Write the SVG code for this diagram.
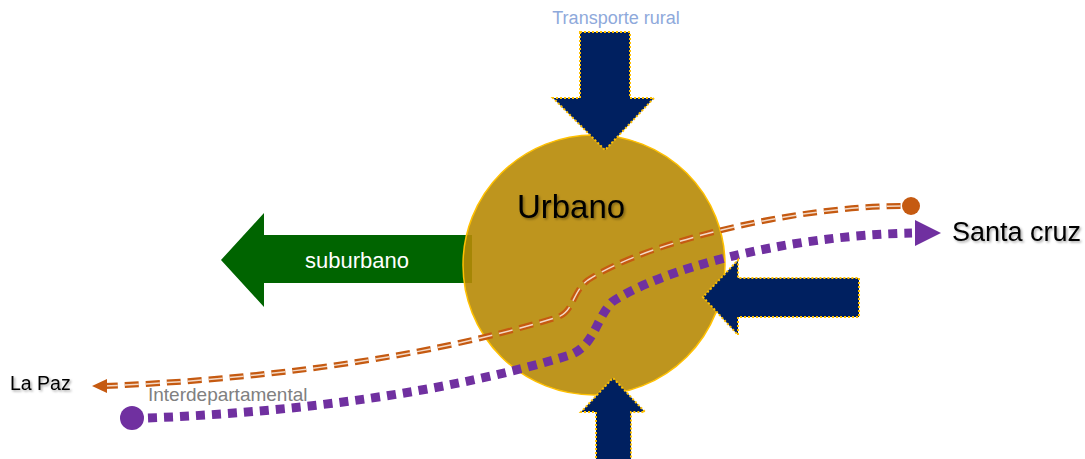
<svg xmlns="http://www.w3.org/2000/svg" width="1085" height="459" viewBox="0 0 1085 459">
<style>
.navy{fill:#002060;stroke:#FFC000;stroke-width:2;stroke-dasharray:2 2}
.lbl{font-family:"Liberation Sans",Arial,sans-serif}
.sh{filter:url(#shadow)}
</style>
<defs>
<filter id="shadow" x="-10%" y="-20%" width="130%" height="150%">
<feDropShadow dx="1.5" dy="1.5" stdDeviation="1" flood-color="#000" flood-opacity="0.35"/>
</filter>
</defs>
<rect width="1085" height="459" fill="#fff"/>
<g id="suburbano">
<path d="M472 235 V283 H264 V307 L221 260 L264 213 V235 Z" fill="#006400"/>
<text class="lbl" x="357" y="268" font-size="22" fill="#fff" text-anchor="middle">suburbano</text>
</g>
<g id="urbano">
<ellipse cx="594" cy="265" rx="131" ry="130" fill="#B78A05" fill-opacity="0.9" stroke="#FFC000" stroke-width="1.5"/>
<text class="lbl sh" x="571" y="218" font-size="33" fill="#000" text-anchor="middle">Urbano</text>
</g>
<g id="connectors">
<g id="lapaz-line">
<path d="M104 386 C250 380,420 360,558 317 C574 311,572 292,588 280 C650 240,800 206,902 206" fill="none" stroke="#C55A11" stroke-width="6" stroke-dasharray="14 7"/>
<path d="M104 386 C250 380,420 360,558 317 C574 311,572 292,588 280 C650 240,800 206,902 206" fill="none" stroke="#F4D9C6" stroke-width="1.5" stroke-dasharray="14 7"/>
<circle cx="911" cy="206" r="9" fill="#C55A11"/>
<polygon points="92,386 107,379 107,393" fill="#C55A11"/>
</g>
<g id="interdep-line">
<path d="M148 418 C300 412,450 392,570 355 C595 345,595 320,612 302 C660 270,780 236,912 233" fill="none" stroke="#7030A0" stroke-width="9" stroke-dasharray="9 7"/>
<circle cx="132" cy="418" r="12" fill="#7030A0"/>
<polygon points="941,233 915,220 915,246" fill="#7030A0"/>
</g>
</g>
<g id="rural">
<path class="navy" d="M580 32 H630 V98 H654 L605 150 L553 98 H580 Z"/>
<text class="lbl" x="616" y="24" font-size="18" fill="#8EA9DB" text-anchor="middle">Transporte rural</text>
</g>
<g id="arrow-right">
<path class="navy" d="M859 278 V317 H738 V335 L703 297 L738 260 V278 Z"/>
</g>
<g id="arrow-bottom">
<path class="navy" d="M596 470 V412 H581 L613 378 L645 412 H631 V470"/>
</g>
<g id="santa-cruz">
<text class="lbl sh" x="952" y="241" font-size="27" fill="#000">Santa cruz</text>
</g>
<g id="la-paz">
<text class="lbl sh" x="10" y="390" font-size="19.5" fill="#000">La Paz</text>
</g>
<g id="interdepartamental">
<text class="lbl" x="148" y="401" font-size="19" fill="#808080">Interdepartamental</text>
</g>
</svg>
